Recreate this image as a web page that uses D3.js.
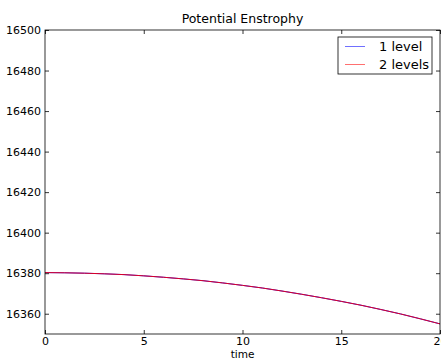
<!DOCTYPE html>
<html>
<head>
<meta charset="utf-8">
<script src="https://cdn.jsdelivr.net/npm/d3@7"></script>
<style>
  body { margin: 0; background: #fff; }
  text { font-family: "DejaVu Sans", sans-serif; fill: #000; }
</style>
</head>
<body>
<div id="chart"></div>
<script>
const times = [0,1,2,3,4,5,6,7,8,9,10,11,12,13,14,15,16,17,18,19,20];
const oneLevel = [16380.3,16380.2,16380.0,16379.7,16379.3,16378.7,16378.0,16377.2,16376.3,16375.2,
  16374.0,16372.7,16371.2,16369.6,16367.9,16366.1,16364.2,16362.1,16359.9,16357.5,16355.0];
const twoLevels = [16380.3,16380.2,16380.0,16379.7,16379.3,16378.7,16378.0,16377.2,16376.3,16375.2,
  16374.0,16372.7,16371.2,16369.6,16367.9,16366.1,16364.2,16362.1,16359.9,16357.5,16355.0];
const xTicks = [0, 5, 10, 15, 20];
const yTicks = [16360, 16380, 16400, 16420, 16440, 16460, 16480, 16500];
const seriesNames = ["1 level", "2 levels"];
const seriesColors = ["#0000ff", "#ff0000"];

const width = 441, height = 359;
const margin = {top: 30, right: 1, bottom: 25, left: 45};
const iw = width - margin.left - margin.right;
const ih = height - margin.top - margin.bottom;

const svg = d3.select("#chart").append("svg")
  .attr("width", width)
  .attr("height", height);

const g = svg.append("g").attr("transform", `translate(${margin.left},${margin.top})`);

const x = d3.scaleLinear().domain([0, 20]).range([0, iw]);
const y = d3.scaleLinear().domain([16350, 16500]).range([ih, 0]);

// lines
const line = d3.line().x((d, i) => x(times[i])).y(d => y(d));
[oneLevel, twoLevels].forEach((s, k) => {
  g.append("path")
    .datum(s)
    .attr("fill", "none")
    .attr("stroke", seriesColors[k])
    .attr("stroke-width", 1)
    .attr("opacity", k === 1 ? 0.85 : 1)
    .attr("d", line);
});

// axes, matplotlib style: ticks inward on all sides
const tickStyle = sel => {
  sel.select(".domain").remove();
  sel.selectAll(".tick line").attr("stroke", "#000").attr("stroke-width", 0.8);
  sel.selectAll(".tick text").attr("font-size", 11).attr("font-family", "DejaVu Sans");
};

g.append("g").attr("transform", `translate(0,${ih})`)
  .call(d3.axisBottom(x).tickValues(xTicks).tickSizeInner(-4).tickSizeOuter(0).tickPadding(3).tickFormat(d3.format("d")))
  .call(tickStyle);
g.append("g")
  .call(d3.axisTop(x).tickValues(xTicks).tickSizeInner(-4).tickSizeOuter(0).tickFormat(""))
  .call(tickStyle);
g.append("g")
  .call(d3.axisLeft(y).tickValues(yTicks).tickSizeInner(-4).tickSizeOuter(0).tickPadding(4).tickFormat(d3.format("d")))
  .call(tickStyle);
g.append("g").attr("transform", `translate(${iw},0)`)
  .call(d3.axisRight(y).tickValues(yTicks).tickSizeInner(-4).tickSizeOuter(0).tickFormat(""))
  .call(tickStyle);

g.append("rect")
  .attr("width", iw).attr("height", ih)
  .attr("fill", "none").attr("stroke", "#000").attr("stroke-width", 0.8);

// title and label
svg.append("text")
  .attr("x", margin.left + iw / 2).attr("y", 23)
  .attr("text-anchor", "middle").attr("font-size", 12.5)
  .text("Potential Enstrophy");
svg.append("text")
  .attr("x", margin.left + iw / 2).attr("y", height - 1)
  .attr("text-anchor", "middle").attr("font-size", 10.5)
  .text("time");

// legend
const lg = svg.append("g").attr("transform", "translate(338,37)");
lg.append("rect").attr("width", 94).attr("height", 37)
  .attr("fill", "#fff").attr("stroke", "#000").attr("stroke-width", 0.8);
seriesNames.forEach((name, k) => {
  const yy = 9.5 + k * 18;
  lg.append("line").attr("x1", 7).attr("x2", 27).attr("y1", yy).attr("y2", yy)
    .attr("stroke", seriesColors[k]).attr("stroke-width", 0.8).attr("opacity", 0.7);
  lg.append("text").attr("x", 41).attr("y", yy + 4.5).attr("font-size", 13).text(name);
});
</script>
</body>
</html>
